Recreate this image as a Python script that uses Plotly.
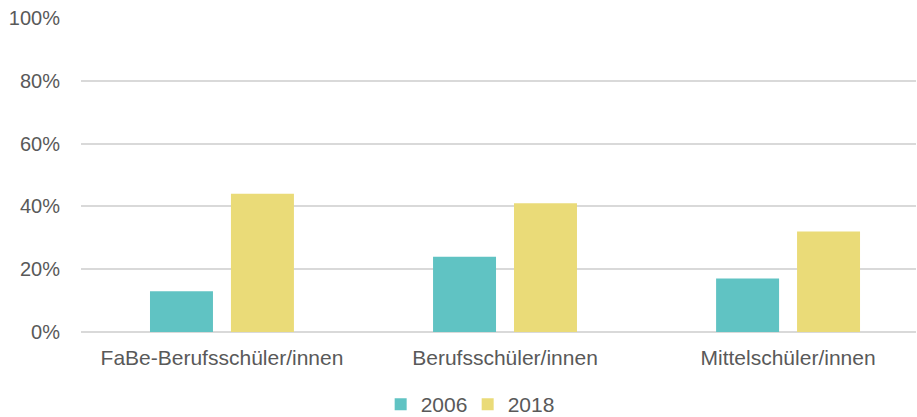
import plotly.graph_objects as go

categories = ["FaBe-Berufsschüler/innen", "Berufsschüler/innen", "Mittelschüler/innen"]
values_2006 = [13, 24, 17]
values_2018 = [44, 41, 32]
tick_values = [0, 20, 40, 60, 80, 100]
tick_labels = ["0%", "20%", "40%", "60%", "80%", "100%"]

font_family = "Liberation Sans, Arial, sans-serif"
text_color = "#595959"

fig = go.Figure()
fig.add_trace(go.Bar(name="2006", x=categories, y=values_2006, marker_color="#60C3C3",
                     marker_line_width=0))
fig.add_trace(go.Bar(name="2018", x=categories, y=values_2018, marker_color="#EADB78",
                     marker_line_width=0))

fig.update_layout(
    width=917, height=417,
    margin=dict(l=81, r=1, t=18, b=85, autoexpand=False),
    paper_bgcolor="white", plot_bgcolor="white",
    barmode="group", bargap=0.428, bargroupgap=0.222,
    font=dict(family=font_family, size=21, color=text_color),
    legend=dict(orientation="h", x=0.51, xanchor="center", xref="container",
                y=0.03, yanchor="middle", yref="container",
                font=dict(size=21, color=text_color), entrywidth=42, itemwidth=30),
    showlegend=True,
)
fig.update_yaxes(range=[0, 100], tickvals=tick_values, ticktext=tick_labels,
                 showgrid=True, gridcolor="#D9D9D9", gridwidth=1.5,
                 zeroline=True, zerolinecolor="#D9D9D9", zerolinewidth=1.5,
                 showline=False, ticks="", ticklabelstandoff=20, automargin=False,
                 tickfont=dict(size=20, color=text_color))
fig.update_xaxes(range=[-0.498, 2.452], showline=False, ticks="", ticklabelstandoff=11,
                 automargin=False, tickfont=dict(size=21, color=text_color))

fig.write_html("out.html")
